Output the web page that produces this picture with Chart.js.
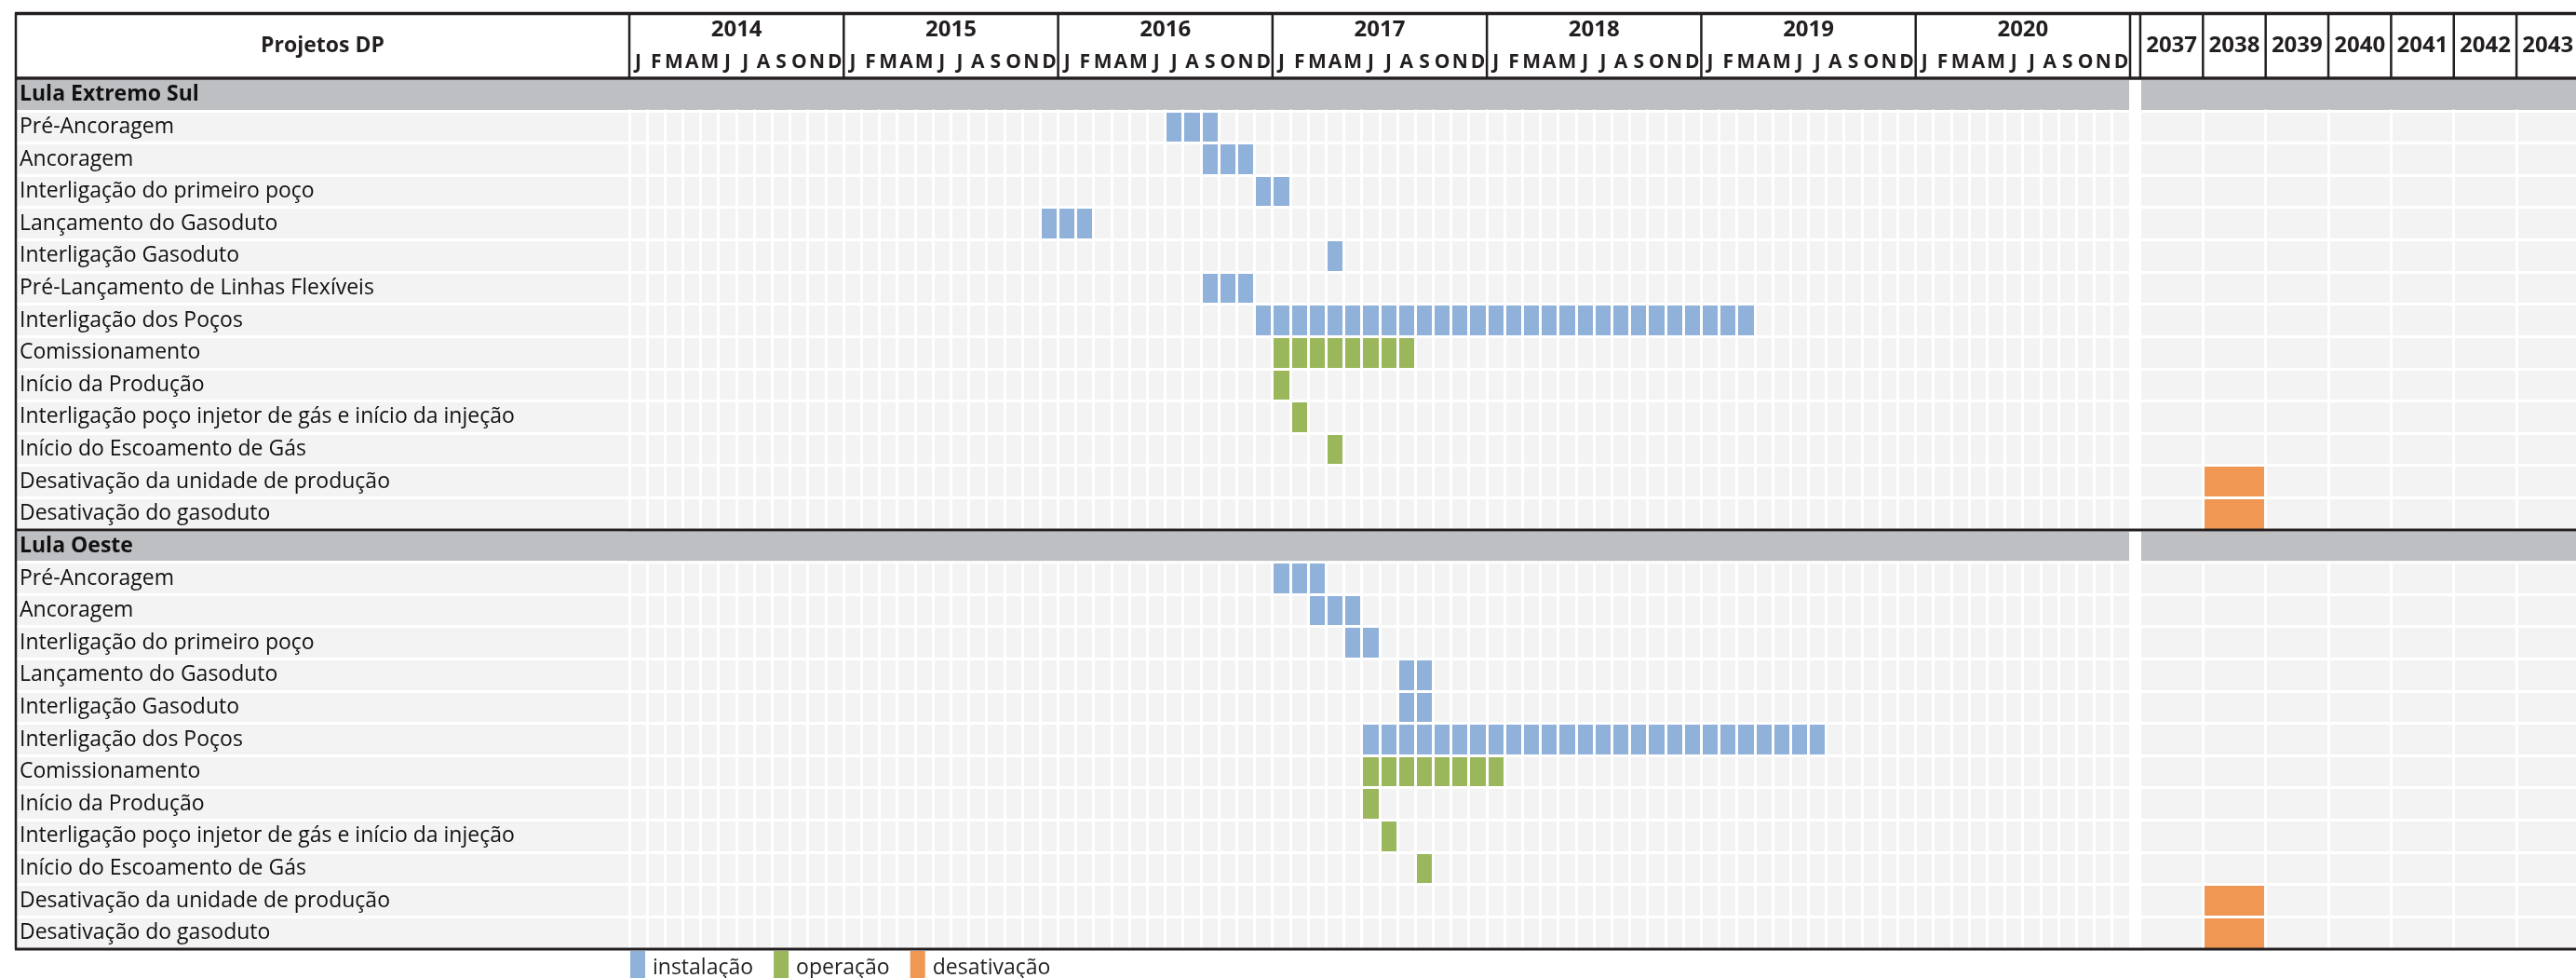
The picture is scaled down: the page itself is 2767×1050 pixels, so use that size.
<!DOCTYPE html>
<html>
<head>
<meta charset="utf-8">
<script src="https://cdn.jsdelivr.net/npm/chart.js@4/dist/chart.umd.min.js"></script>
<style>
  html, body { margin: 0; padding: 0; background: #fff; }
  #wrap { width: 2767px; height: 1050px; position: relative; }
</style>
</head>
<body>
<div id="wrap"><canvas id="gantt" width="2767" height="1050"></canvas></div>
<script>
// ---- data -------------------------------------------------------------
const monthLetters = ['J', 'F', 'M', 'A', 'M', 'J', 'J', 'A', 'S', 'O', 'N', 'D'];
const monthYears = [2014, 2015, 2016, 2017, 2018, 2019, 2020];
const laterYears = [2037, 2038, 2039, 2040, 2041, 2042, 2043];
const headerTitle = 'Projetos DP';

const rowLabels = [
  'Lula Extremo Sul',
  'Pré-Ancoragem',
  'Ancoragem',
  'Interligação do primeiro poço',
  'Lançamento do Gasoduto',
  'Interligação Gasoduto',
  'Pré-Lançamento de Linhas Flexíveis',
  'Interligação dos Poços',
  'Comissionamento',
  'Início da Produção',
  'Interligação poço injetor de gás e início da injeção',
  'Início do Escoamento de Gás',
  'Desativação da unidade de produção',
  'Desativação do gasoduto',
  'Lula Oeste',
  'Pré-Ancoragem',
  'Ancoragem',
  'Interligação do primeiro poço',
  'Lançamento do Gasoduto',
  'Interligação Gasoduto',
  'Interligação dos Poços',
  'Comissionamento',
  'Início da Produção',
  'Interligação poço injetor de gás e início da injeção',
  'Início do Escoamento de Gás',
  'Desativação da unidade de produção',
  'Desativação do gasoduto'
];
const groupRows = [0, 14];

// Phase periods per row: [first, last] inclusive, 'YYYY-MM' for months, 'YYYY' for the later-year columns
const instalacao = [
  null,
  ['2016-07', '2016-09'],
  ['2016-09', '2016-11'],
  ['2016-12', '2017-01'],
  ['2015-12', '2016-02'],
  ['2017-04', '2017-04'],
  ['2016-09', '2016-11'],
  ['2016-12', '2019-03'],
  null, null, null, null, null, null,
  null,
  ['2017-01', '2017-03'],
  ['2017-03', '2017-05'],
  ['2017-05', '2017-06'],
  ['2017-08', '2017-09'],
  ['2017-08', '2017-09'],
  ['2017-06', '2019-07'],
  null, null, null, null, null, null
];
const operacao = [
  null, null, null, null, null, null, null, null,
  ['2017-01', '2017-08'],
  ['2017-01', '2017-01'],
  ['2017-02', '2017-02'],
  ['2017-04', '2017-04'],
  null, null,
  null, null, null, null, null, null, null,
  ['2017-06', '2018-01'],
  ['2017-06', '2017-06'],
  ['2017-07', '2017-07'],
  ['2017-09', '2017-09'],
  null, null
];
const desativacao = [
  null, null, null, null, null, null, null, null, null, null, null, null,
  ['2038', '2038'],
  ['2038', '2038'],
  null, null, null, null, null, null, null, null, null, null, null,
  ['2038', '2038'],
  ['2038', '2038']
];
const legendLabels = ['instalação', 'operação', 'desativação'];

// ---- styling / axis geometry -----------------------------------------
const COLORS = { instalacao: '#8fb1da', operacao: '#9bb75c', desativacao: '#f09753' };
const CELL_BG = '#f2f3f2';
const GROUP_BG = '#bebfc2';
const LINE = '#231f20';
const FONT = "'Open Sans', 'DejaVu Sans', sans-serif";

const MONTH_SPAN = monthYears.length * 12;   // month columns on the x axis
const GAP_UNITS = 0.57;                      // blank strip between 2020 and 2037
const LATER_START = MONTH_SPAN + GAP_UNITS;
const YEAR_UNITS = 3.51;                     // width of a single-year column, in months
const X_MAX = 108.96;                        // axis end at the canvas edge (2043 column clipped)

function toAxis(s) {
  const [y, mo] = s.split('-').map(Number);
  if (mo) return (y - monthYears[0]) * 12 + (mo - 1);
  return LATER_START + (y - laterYears[0]) * YEAR_UNITS;
}
function toRange(p) {
  if (!p) return null;
  const unit = p[1].includes('-') ? 1 : YEAR_UNITS;
  return [toAxis(p[0]), toAxis(p[1]) + unit];
}

const boundaries = [];
for (let m = 0; m <= MONTH_SPAN; m++) boundaries.push(m);
for (let k = 0; k <= laterYears.length; k++) {
  const v = LATER_START + k * YEAR_UNITS;
  if (v <= X_MAX) boundaries.push(v);
}

// ---- table drawing ----------------------------------------------------
const TABLE_LEFT = 17;
const TABLE_TOP = 14;

const tablePlugin = {
  id: 'tableFrame',
  beforeDraw(chart) {
    const { ctx, chartArea, scales: { x, y } } = chart;
    const rowH = (chartArea.bottom - chartArea.top) / rowLabels.length;
    const gapL = x.getPixelForValue(MONTH_SPAN);
    const gapR = x.getPixelForValue(LATER_START);
    ctx.save();
    ctx.fillStyle = '#fff';
    ctx.fillRect(0, 0, chart.width, chart.height);
    rowLabels.forEach((_, i) => {
      const top = y.getPixelForValue(i) - rowH / 2;
      ctx.fillStyle = groupRows.includes(i) ? GROUP_BG : CELL_BG;
      ctx.fillRect(TABLE_LEFT, top, gapL - TABLE_LEFT, rowH);
      ctx.fillRect(gapR, top, chart.width - gapR, rowH);
    });
    ctx.restore();
  },
  afterDraw(chart) {
    const { ctx, chartArea, scales: { x, y } } = chart;
    const rowH = (chartArea.bottom - chartArea.top) / rowLabels.length;
    const gapL = x.getPixelForValue(MONTH_SPAN);
    const gapR = x.getPixelForValue(LATER_START);
    const headBottom = chartArea.top;
    ctx.save();

    // group bands run uninterrupted across the timeline
    groupRows.forEach(i => {
      const top = y.getPixelForValue(i) - rowH / 2 + 1.5;
      ctx.fillStyle = GROUP_BG;
      ctx.fillRect(chartArea.left - 2, top, gapL - 1.5 - (chartArea.left - 2), rowH - 3);
      ctx.fillRect(gapR + 1.5, top, chart.width - gapR - 1.5, rowH - 3);
    });

    // frame lines
    ctx.strokeStyle = LINE;
    const hline = (yy, w) => {
      ctx.lineWidth = w;
      ctx.beginPath(); ctx.moveTo(TABLE_LEFT - 1, yy); ctx.lineTo(chart.width, yy); ctx.stroke();
    };
    const vline = (xx, y0, y1, w) => {
      ctx.lineWidth = w;
      ctx.beginPath(); ctx.moveTo(xx, y0); ctx.lineTo(xx, y1); ctx.stroke();
    };
    hline(TABLE_TOP + 0.5, 3.5);
    hline(headBottom - 0.5, 3.5);
    hline(y.getPixelForValue(groupRows[1]) - rowH / 2, 3);
    hline(chartArea.bottom, 3);
    vline(TABLE_LEFT, TABLE_TOP, chartArea.bottom, 2.5);
    vline(chartArea.left, TABLE_TOP, headBottom, 2.5);
    for (let k = 1; k <= monthYears.length; k++) {
      vline(x.getPixelForValue(k * 12), TABLE_TOP, headBottom, 2.5);
    }
    vline(gapR, TABLE_TOP, headBottom, 2.5);
    for (let k = 1; k < laterYears.length; k++) {
      vline(x.getPixelForValue(LATER_START + k * YEAR_UNITS), TABLE_TOP, headBottom, 2.5);
    }

    // header text
    ctx.fillStyle = LINE;
    ctx.textAlign = 'center';
    ctx.textBaseline = 'middle';
    ctx.font = `bold 23px ${FONT}`;
    ctx.fillText(headerTitle, (TABLE_LEFT + chartArea.left) / 2, 49);
    monthYears.forEach((yr, k) => {
      const cx = (x.getPixelForValue(k * 12) + x.getPixelForValue(k * 12 + 12)) / 2;
      ctx.font = `bold 24px ${FONT}`;
      ctx.fillText(String(yr), cx, 32);
      ctx.font = `bold 21px ${FONT}`;
      monthLetters.forEach((ml, j) => {
        const mx = x.getPixelForValue(k * 12 + j + 0.5);
        ctx.fillText(ml, mx, 67);
      });
    });
    ctx.font = `bold 24px ${FONT}`;
    laterYears.forEach((yr, k) => {
      const cx = x.getPixelForValue(LATER_START + (k + 0.5) * YEAR_UNITS);
      ctx.fillText(String(yr), cx, 49);
    });

    // legend along the bottom edge
    const swatches = [COLORS.instalacao, COLORS.operacao, COLORS.desativacao];
    let lx = chartArea.left + 1;
    ctx.textAlign = 'left';
    ctx.font = `23px ${FONT}`;
    legendLabels.forEach((txt, i) => {
      ctx.fillStyle = swatches[i];
      ctx.fillRect(lx, chartArea.bottom + 2, 16, chart.height - chartArea.bottom - 2);
      ctx.fillStyle = LINE;
      ctx.fillText(txt, lx + 24, 1039);
      lx += 24 + ctx.measureText(txt).width + 22;
    });
    ctx.restore();
  }
};

const barDefaults = { grouped: false, barPercentage: 1, categoryPercentage: 1, borderWidth: 0 };

new Chart(document.getElementById('gantt'), {
  type: 'bar',
  data: {
    labels: rowLabels,
    datasets: [
      { label: legendLabels[0], data: instalacao.map(toRange), backgroundColor: COLORS.instalacao, ...barDefaults },
      { label: legendLabels[1], data: operacao.map(toRange), backgroundColor: COLORS.operacao, ...barDefaults },
      { label: legendLabels[2], data: desativacao.map(toRange), backgroundColor: COLORS.desativacao, ...barDefaults }
    ]
  },
  options: {
    indexAxis: 'y',
    responsive: false,
    animation: false,
    layout: { padding: { top: 84.5, bottom: 31, left: 21, right: 0 } },
    plugins: { legend: { display: false }, tooltip: { enabled: false } },
    scales: {
      x: {
        type: 'linear',
        position: 'top',
        min: 0,
        max: X_MAX,
        afterBuildTicks: s => { s.ticks = boundaries.map(v => ({ value: v })); },
        afterFit: s => { s.height = 0; },
        ticks: { display: false },
        border: { display: false },
        grid: { color: '#fff', lineWidth: 3, drawTicks: false, z: 1 }
      },
      y: {
        type: 'category',
        afterFit: s => { s.width = 655; },
        border: { display: false },
        grid: { color: '#fff', lineWidth: 3, offset: true, tickLength: 660, z: 1 },
        ticks: {
          autoSkip: false,
          crossAlign: 'far',
          padding: 0,
          color: '#111',
          font: c => ({ family: FONT, size: 23, weight: groupRows.includes(c.index) ? 'bold' : 'normal' })
        }
      }
    }
  },
  plugins: [tablePlugin]
});
</script>
</body>
</html>
